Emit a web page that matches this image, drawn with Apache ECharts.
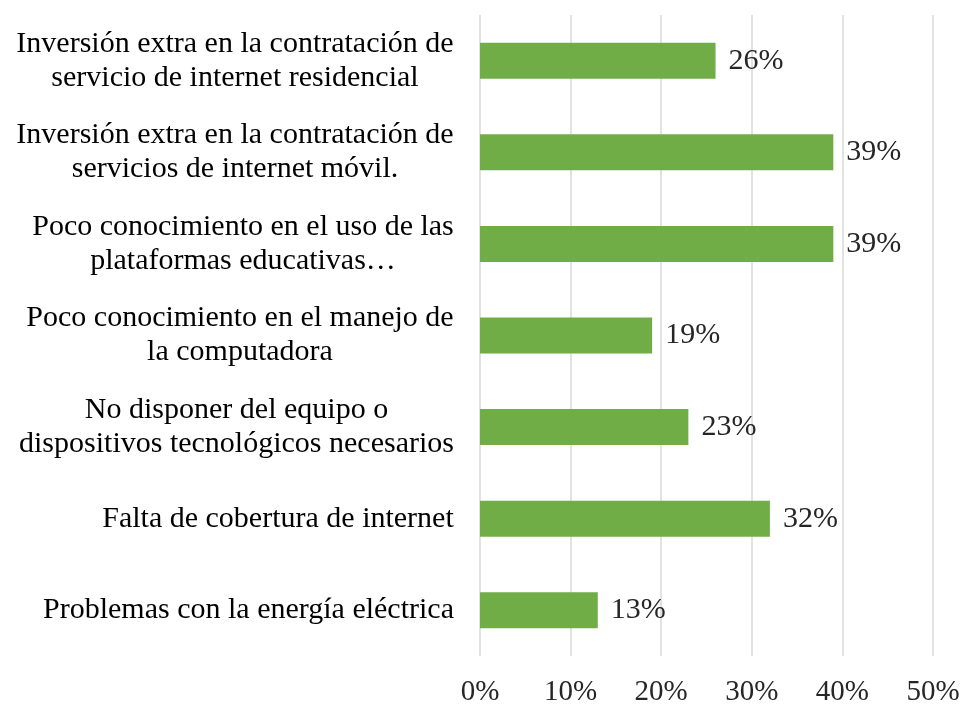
<!DOCTYPE html>
<html>
<head>
<meta charset="utf-8">
<script src="https://cdn.jsdelivr.net/npm/echarts@6/dist/echarts.min.js"></script>
<style>
  html, body { margin: 0; padding: 0; background: #fff; }
  #chart { width: 974px; height: 707px; }
</style>
</head>
<body>
<div id="chart"></div>
<script>
// categories listed top to bottom, as in the picture
const categories = [
  'Inversión extra en la contratación de\nservicio de internet residencial',
  'Inversión extra en la contratación de\nservicios de internet móvil.',
  'Poco conocimiento en el uso de las\nplataformas educativas…',
  'Poco conocimiento en el manejo de\nla computadora',
  'No disponer del equipo o\ndispositivos tecnológicos necesarios',
  'Falta de cobertura de internet',
  'Problemas con la energía eléctrica'
];
const values = [26, 39, 39, 19, 23, 32, 13];
const xTicks = [0, 10, 20, 30, 40, 50];

const FONT = '"Liberation Serif", "Times New Roman", serif';
const LABEL_SIZE = 30;

// one rich style per label so every line is centred inside its own block
const measureCtx = document.createElement('canvas').getContext('2d');
measureCtx.font = LABEL_SIZE + 'px ' + FONT;
const rich = {};
categories.forEach((cat, i) => {
  const w = Math.max(...cat.split('\n').map(line => measureCtx.measureText(line).width));
  rich['c' + i] = {
    width: Math.ceil(w),
    align: 'center',
    fontFamily: FONT,
    fontSize: LABEL_SIZE,
    lineHeight: 34,
    color: '#000'
  };
});

const chart = echarts.init(document.getElementById('chart'));
chart.setOption({
  backgroundColor: '#fff',
  animation: false,
  grid: { left: 480, right: 41, top: 15, bottom: 50 },
  xAxis: {
    type: 'value',
    min: xTicks[0],
    max: xTicks[xTicks.length - 1],
    interval: 10,
    axisLine: { show: false },
    axisTick: { show: false },
    splitLine: { lineStyle: { color: '#d9d9d9', width: 1.5 } },
    axisLabel: {
      margin: 22,
      fontFamily: FONT,
      fontSize: 29,
      color: '#262626',
      formatter: v => v + '%'
    }
  },
  yAxis: {
    type: 'category',
    inverse: true,
    data: categories,
    axisLine: { show: false },
    axisTick: { show: false },
    axisLabel: {
      margin: 26,
      align: 'right',
      formatter: (value, idx) =>
        value.split('\n').map(line => '{c' + idx + '|' + line + '}').join('\n'),
      rich: rich
    }
  },
  series: [{
    type: 'bar',
    data: values,
    barWidth: 36,
    itemStyle: { color: '#70ad47' },
    label: {
      show: true,
      position: 'right',
      distance: 13,
      fontFamily: FONT,
      fontSize: 30,
      color: '#262626',
      formatter: p => p.value + '%'
    }
  }]
});
</script>
</body>
</html>
